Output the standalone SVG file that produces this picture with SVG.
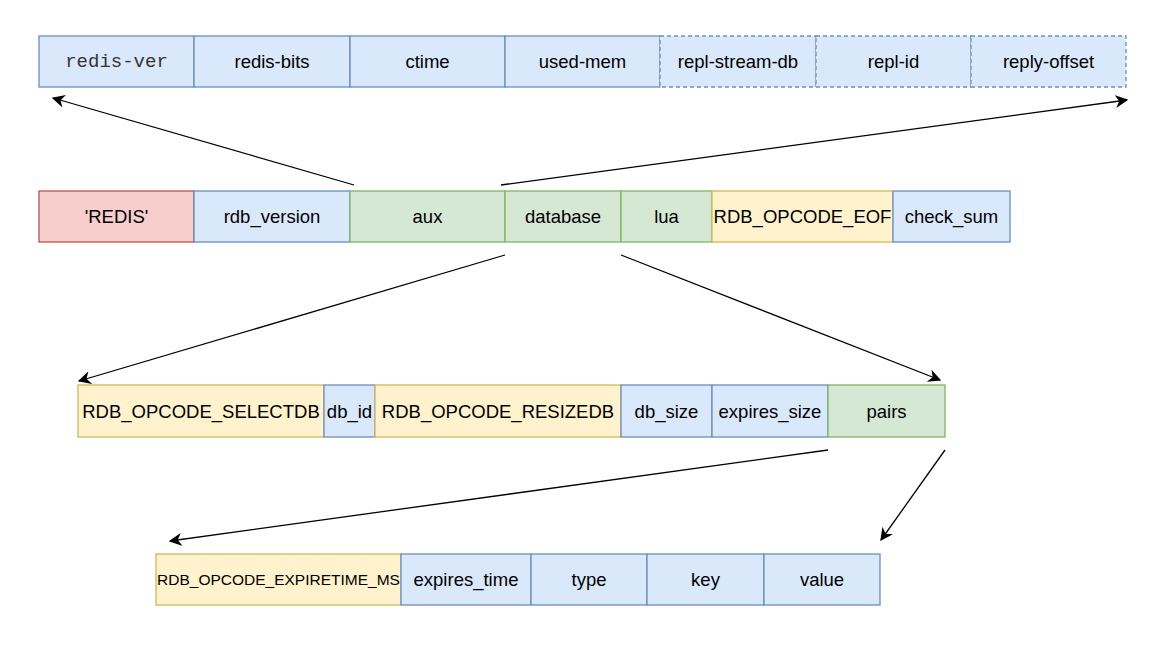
<svg xmlns="http://www.w3.org/2000/svg" width="1153" height="646" viewBox="0 0 1153 646">
<style>
rect{stroke-width:1.3}
.b{fill:#dae8fc;stroke:#6c8ebf}
.g{fill:#d5e8d4;stroke:#82b366}
.y{fill:#fff2cc;stroke:#d6b656}
.r{fill:#f8cecc;stroke:#b85450}
.d{stroke-dasharray:4 3}
text{font-family:"Liberation Sans",Arial,sans-serif;font-size:18.5px;fill:#000;text-anchor:middle;dominant-baseline:central}
.m{font-family:"Liberation Mono","Courier New",monospace;font-size:19px;fill:#333}
.s{font-size:15.5px}
.c{stroke:#000;stroke-width:1.3;fill:none;marker-end:url(#ah)}
</style>
<defs>
<marker id="ah" viewBox="0 0 10 10" refX="9" refY="5" markerWidth="13" markerHeight="13" markerUnits="userSpaceOnUse" orient="auto">
<path d="M0,0 L10,5 L0,10 L3,5 z" fill="#000"/>
</marker>
</defs>
<rect width="1153" height="646" fill="#fff" style="stroke:none"/>
<g id="row1">
<g id="redis-ver"><rect class="b" x="39" y="36" width="155" height="51"/><text class="m" x="116.5" y="61.5">redis-ver</text></g>
<g id="redis-bits"><rect class="b" x="194" y="36" width="156" height="51"/><text x="272" y="61.5">redis-bits</text></g>
<g id="ctime"><rect class="b" x="350" y="36" width="155" height="51"/><text x="427.5" y="61.5">ctime</text></g>
<g id="used-mem"><rect class="b" x="505" y="36" width="155" height="51"/><text x="582.5" y="61.5">used-mem</text></g>
<g id="repl-stream-db"><rect class="b d" x="660" y="36" width="156" height="51"/><text x="738" y="61.5">repl-stream-db</text></g>
<g id="repl-id"><rect class="b d" x="816" y="36" width="155" height="51"/><text x="893.5" y="61.5">repl-id</text></g>
<g id="reply-offset"><rect class="b d" x="971" y="36" width="155" height="51"/><text x="1048.5" y="61.5">reply-offset</text></g>
</g>
<g id="row2">
<g id="redis"><rect class="r" x="39" y="191" width="155" height="51"/><text x="116.5" y="216.5">'REDIS'</text></g>
<g id="rdb_version"><rect class="b" x="194" y="191" width="156" height="51"/><text x="272" y="216.5">rdb_version</text></g>
<g id="aux"><rect class="g" x="350" y="191" width="155" height="51"/><text x="427.5" y="216.5">aux</text></g>
<g id="database"><rect class="g" x="505" y="191" width="116" height="51"/><text x="563" y="216.5">database</text></g>
<g id="lua"><rect class="g" x="621" y="191" width="91" height="51"/><text x="666.5" y="216.5">lua</text></g>
<g id="eof"><rect class="y" x="712" y="191" width="181" height="51"/><text x="802.5" y="216.5">RDB_OPCODE_EOF</text></g>
<g id="check_sum"><rect class="b" x="893" y="191" width="117" height="51"/><text x="951.5" y="216.5">check_sum</text></g>
</g>
<g id="row3">
<g id="selectdb"><rect class="y" x="78" y="385" width="246" height="52"/><text x="201" y="411">RDB_OPCODE_SELECTDB</text></g>
<g id="db_id"><rect class="b" x="324" y="385" width="51" height="52"/><text x="349.5" y="411">db_id</text></g>
<g id="resizedb"><rect class="y" x="375" y="385" width="246" height="52"/><text x="498" y="411">RDB_OPCODE_RESIZEDB</text></g>
<g id="db_size"><rect class="b" x="621" y="385" width="91" height="52"/><text x="666.5" y="411">db_size</text></g>
<g id="expires_size"><rect class="b" x="712" y="385" width="116" height="52"/><text x="770" y="411">expires_size</text></g>
<g id="pairs"><rect class="g" x="828" y="385" width="117" height="52"/><text x="886.5" y="411">pairs</text></g>
</g>
<g id="row4">
<g id="expiretime"><rect class="y" x="156" y="554" width="245" height="51"/><text class="s" x="278.5" y="579.5">RDB_OPCODE_EXPIRETIME_MS</text></g>
<g id="expires_time"><rect class="b" x="401" y="554" width="130" height="51"/><text x="466" y="579.5">expires_time</text></g>
<g id="type"><rect class="b" x="531" y="554" width="116" height="51"/><text x="589" y="579.5">type</text></g>
<g id="key"><rect class="b" x="647" y="554" width="117" height="51"/><text x="705.5" y="579.5">key</text></g>
<g id="value"><rect class="b" x="764" y="554" width="116" height="51"/><text x="822" y="579.5">value</text></g>
</g>
<g id="connectors">
<line class="c" x1="354" y1="185" x2="53" y2="98"/>
<line class="c" x1="501" y1="185" x2="1127" y2="100"/>
<line class="c" x1="505" y1="255" x2="79" y2="381"/>
<line class="c" x1="621" y1="255" x2="940" y2="380"/>
<line class="c" x1="828" y1="450" x2="170" y2="541"/>
<line class="c" x1="945" y1="450" x2="881" y2="540"/>
</g>
</svg>
